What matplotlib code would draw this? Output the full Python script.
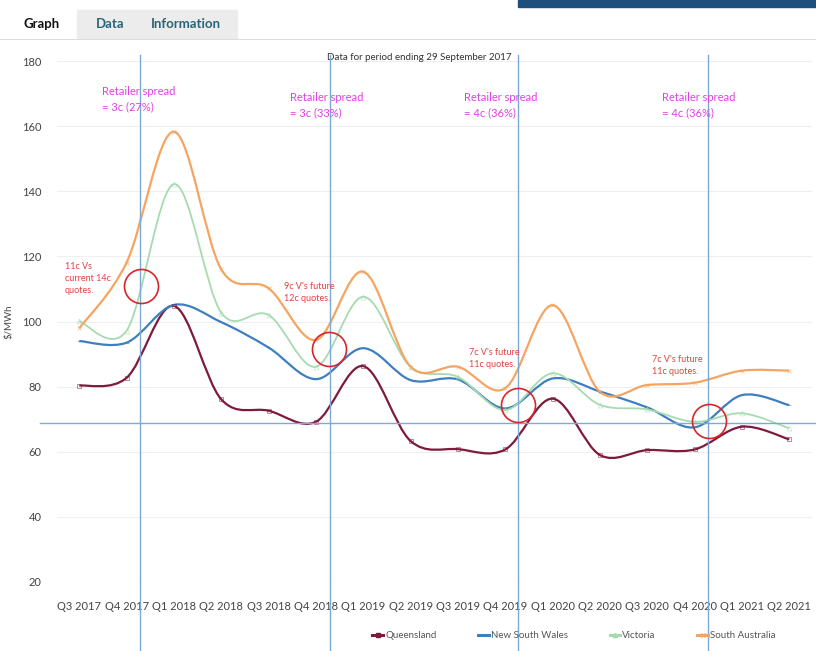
import numpy as np
import matplotlib.pyplot as plt
from matplotlib.path import Path
from matplotlib.patches import PathPatch, Rectangle
from matplotlib.lines import Line2D

plt.rcParams['font.family'] = ['Lato', 'DejaVu Sans']

# Datos
quarters = ['Q3 2017', 'Q4 2017', 'Q1 2018', 'Q2 2018', 'Q3 2018', 'Q4 2018',
            'Q1 2019', 'Q2 2019', 'Q3 2019', 'Q4 2019', 'Q1 2020', 'Q2 2020',
            'Q3 2020', 'Q4 2020', 'Q1 2021', 'Q2 2021']
queensland = [80.3, 82.7, 104.8, 76.1, 72.6, 69.2, 86.3, 63.3, 60.8, 60.7,
              76.3, 59.0, 60.5, 60.7, 67.7, 63.8]
nsw = [94.0, 93.5, 105.1, 99.8, 92.0, 82.3, 91.8, 82.0, 82.2, 73.3,
       82.5, 78.5, 73.6, 67.5, 77.4, 74.3]
victoria = [100.1, 97.2, 142.2, 102.7, 102.0, 86.1, 107.6, 86.1, 83.0, 72.8,
            84.1, 74.4, 73.0, 69.2, 71.8, 67.2]
south_aus = [97.9, 118.1, 158.3, 116.0, 110.2, 94.3, 115.3, 86.1, 86.1, 79.5,
             105.0, 78.4, 80.5, 81.2, 84.9, 84.9]

# Anotaciones añadidas a mano sobre la imagen
spread_x = [0.48, 4.46, 8.12, 12.32]
spread_y = [172.3, 170.5, 170.5, 170.5]
spread_text = ['Retailer spread\n= 3c (27%)', 'Retailer spread\n= 3c (33%)',
               'Retailer spread\n= 4c (36%)', 'Retailer spread\n= 4c (36%)']
circle_x = [1.30, 5.28, 9.27, 13.30]
circle_y = [110.9, 91.5, 74.3, 69.4]
vline_x = [1.29, 5.29, 9.26, 13.28]
hline_y = 68.9

W, H = 816, 651


def fx(px):
    return px / W


def fy(py):
    return 1 - py / H


def smooth_path(xs, ys):
    # curva suavizada tipo Excel (Catmull-Rom -> Bezier)
    p = np.column_stack([xs, ys]).astype(float)
    ext = np.vstack([p[0], p, p[-1]])
    verts = [p[0]]
    codes = [Path.MOVETO]
    for i in range(len(p) - 1):
        p0, p1, p2, p3 = ext[i], ext[i + 1], ext[i + 2], ext[i + 3]
        verts += [p1 + (p2 - p0) / 6, p2 - (p3 - p1) / 6, p2]
        codes += [Path.CURVE4] * 3
    return Path(verts, codes)


fig = plt.figure(figsize=(W / 100, H / 100), dpi=100)

# pestañas de la pagina
fig.patches.append(Rectangle((fx(77), fy(38)), fx(237) - fx(77), fy(10) - fy(38),
                             transform=fig.transFigure, color='#ececec', zorder=0))
fig.add_artist(Line2D([0, 1], [fy(39), fy(39)], transform=fig.transFigure,
                      color='#dddddd', lw=0.8))
fig.patches.append(Rectangle((fx(518), fy(7)), fx(816) - fx(518), fy(0) - fy(7),
                             transform=fig.transFigure, color='#1d4f7e', zorder=0))
fig.text(fx(23), fy(24), 'Graph', fontsize=9.5, fontweight='bold', color='#111111', va='center')
fig.text(fx(96), fy(24), 'Data', fontsize=9.5, fontweight='bold', color='#2a6478', va='center')
fig.text(fx(151), fy(24), 'Information', fontsize=9.5, fontweight='bold', color='#2a6478', va='center')

ax = fig.add_axes([fx(57), fy(582), fx(812) - fx(57), fy(61) - fy(582)])
x = np.arange(len(quarters))

series = [
    (queensland, 'Queensland', '#7e1a3c', 1.6, 's'),
    (nsw, 'New South Wales', '#3f7fc0', 1.6, '_'),
    (victoria, 'Victoria', '#a6dbb0', 1.3, '^'),
    (south_aus, 'South Australia', '#f6a461', 1.6, 'x'),
]
handles = []
for vals, name, col, lw, mk in series:
    ax.add_patch(PathPatch(smooth_path(x, vals), fill=False, edgecolor=col, lw=lw, zorder=3))
    ax.plot(x, vals, ls='none', marker=mk, ms=3.5, mfc='none', mec=col, mew=0.6,
            alpha=0.6, zorder=4)
    handles.append(Line2D([], [], color=col, lw=2.2, marker=mk, ms=3, mfc='none',
                          mec=col, label=name))

ax.set_xlim(-0.47, 15.48)
ax.set_ylim(20, 180)
ax.set_yticks(np.arange(20, 181, 20))
ax.set_xticks(x)
ax.set_xticklabels(quarters)
ax.tick_params(axis='both', length=0, labelsize=8, colors='#444444')
ax.tick_params(axis='x', pad=14)
ax.tick_params(axis='y', pad=11)
ax.grid(axis='y', color='#efefef', lw=0.8)
ax.set_axisbelow(True)
for s in ax.spines.values():
    s.set_visible(False)
ax.set_ylabel('$/MWh', fontsize=7, color='#444444', labelpad=6)

ax.text(0.48, 1.0075, 'Data for period ending 29 September 2017', transform=ax.transAxes,
        ha='center', va='center', fontsize=7, color='#333333')

# lineas azules dibujadas encima
for xv in vline_x:
    ax.axvline(xv, ymin=-0.133, ymax=1.012, clip_on=False, color='#7ea9d2', lw=1.0, zorder=5)
ax.axhline(hline_y, xmin=-0.023, xmax=1.01, clip_on=False, color='#7ea9d2', lw=1.0, zorder=5)

for xs, ys, t in zip(spread_x, spread_y, spread_text):
    ax.text(xs, ys, t, fontsize=8, color='#e040e6', va='top', ha='left',
            linespacing=1.45, zorder=6)

ax.plot(circle_x, circle_y, ls='none', marker='o', ms=24.5, mfc='none', mec='#d7262b',
        mew=1.2, zorder=6)

red = '#e0433e'
ax.text(-0.31, 118.2, '11c Vs\ncurrent 14c\nquotes.', fontsize=6.5, color=red,
        va='top', linespacing=1.4, zorder=6)
ax.text(4.32, 112.0, "9c V's future\n12c quotes.", fontsize=6.5, color=red,
        va='top', linespacing=1.4, zorder=6)
ax.text(8.24, 91.8, "7c V's future\n11c quotes.", fontsize=6.5, color=red,
        va='top', linespacing=1.4, zorder=6)
ax.text(12.1, 89.6, "7c V's future\n11c quotes.", fontsize=6.5, color=red,
        va='top', linespacing=1.4, zorder=6)

leg = fig.legend(handles=handles, loc='center', bbox_to_anchor=(fx(574), fy(636)), ncol=4,
                 frameon=False, fontsize=7, handlelength=1.1, handletextpad=0.2,
                 columnspacing=4.3, labelcolor='#555555')

fig.savefig('out.png', dpi=100)
